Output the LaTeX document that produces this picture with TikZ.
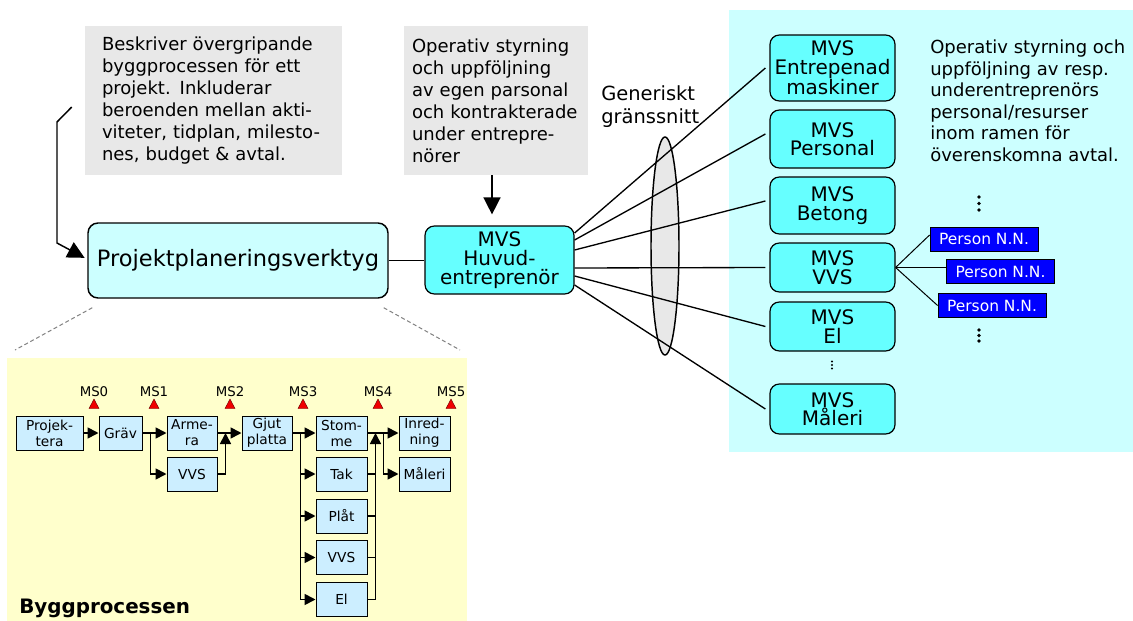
\documentclass[tikz,border=0pt]{standalone}
\usepackage{fontspec}
\setmainfont{DejaVu Sans}
\usetikzlibrary{arrows.meta,calc}
\definecolor{graybox}{RGB}{232,232,232}
\definecolor{palecyan}{RGB}{204,255,255}
\definecolor{mvscyan}{RGB}{102,255,255}
\definecolor{paleyellow}{RGB}{255,255,204}
\definecolor{taskblue}{RGB}{204,238,255}
\definecolor{msred}{RGB}{240,0,0}
\definecolor{personblue}{RGB}{0,0,255}
\begin{document}
\begin{tikzpicture}[x=0.75pt, y=-0.75pt,
  note/.style={fill=graybox, align=left, inner ysep=0pt, minimum height=111.75pt,
    font=\fontsize{13.5}{16.5}\selectfont},
  tool/.style={draw, line width=1.1pt, rounded corners=7.5pt, fill=palecyan,
    minimum width=225pt, minimum height=56.25pt, inner sep=0pt,
    font=\fontsize{16.9}{20}\selectfont},
  mvs/.style={draw, line width=0.9pt, rounded corners=7pt, fill=mvscyan, align=center,
    inner sep=0pt, minimum width=93.75pt, font=\fontsize{15}{13.9}\selectfont},
  person/.style={draw=black, line width=0.6pt, fill=personblue, text=white, inner sep=0pt,
    minimum width=81pt, minimum height=18pt, font=\fontsize{11.6}{13}\selectfont},
  task/.style={draw, line width=0.75pt, fill=taskblue, align=center, inner sep=0pt,
    minimum height=25.5pt, font=\fontsize{10.3}{12}\selectfont},
  fanline/.style={line width=1pt},
  thinline/.style={line width=0.75pt},
  bigarrow/.style={line width=1.1pt, -{Triangle[length=12.75pt,width=12.75pt]}},
  flow/.style={line width=1.3pt, -{Triangle[length=8.25pt,width=8.25pt]}},
  merge/.style={line width=1.3pt},
  mslabel/.style={font=\fontsize{10}{11}\selectfont, inner sep=0pt},
]
\useasboundingbox (0,0) rectangle (1133,621);

% background panels
\fill[palecyan] (729,10) rectangle (1133,452);
\fill[paleyellow] (7,358) rectangle (467,621);

% generic interface ellipse
\draw[fill=graybox, line width=1.1pt] (665,246) ellipse [x radius=14, y radius=109];

% explanatory notes
\node[note, text width=167.25pt, inner xsep=12.75pt] (gb1) at (213.5,100.5)
  {Beskriver övergripande\\byggprocessen för ett\\projekt. Inkluderar\\beroenden mellan akti-\\viteter, tidplan, milesto-\\nes, budget \& avtal.};
\node[note, text width=126pt, inner xsep=6pt] (gb2) at (496,100.5)
  {Operativ styrning\\och uppföljning\\av egen parsonal\\och kontrakterade\\under entrepre-\\nörer};

% main tools
\node[tool] (proj) at (238,260.5) {Projektplaneringsverktyg};
\node[mvs, minimum width=111.75pt, minimum height=51pt, font=\fontsize{15}{14.25}\selectfont]
  (huv) at (499.5,260) {MVS\\Huvud-\\entreprenör};

% subcontractor systems
\node[mvs, minimum height=49.5pt]  (mvsent)  at (832.5,68)    {MVS\\Entrepenad\\maskiner};
\node[mvs, minimum height=43.5pt]  (mvspers) at (832.5,139)   {MVS\\Personal};
\node[mvs, minimum height=42.75pt] (mvsbet)  at (832.5,205.5) {MVS\\Betong};
\node[mvs, minimum height=36.75pt] (mvsvvs)  at (832.5,267.5) {MVS\\VVS};
\node[mvs, minimum height=36.75pt] (mvsel)   at (832.5,326.5) {MVS\\El};
\node[mvs, minimum height=37.5pt]  (mvsmal)  at (832.5,409)   {MVS\\Måleri};

% persons
\node[person] (p1) at (984,239)    {Person N.N.};
\node[person] (p2) at (1000.5,271.5) {Person N.N.};
\node[person] (p3) at (992,305.5)  {Person N.N.};

% texts
\node[anchor=north west, inner sep=0pt, align=left, font=\fontsize{14.6}{17.25}\selectfont]
  (gen) at (601,85.5) {Generiskt\\gränssnitt};
\node[anchor=north west, inner sep=0pt, align=left, font=\fontsize{13.5}{16.2}\selectfont]
  (desc) at (930,39.5) {Operativ styrning och\\uppföljning av resp.\\underentreprenörs\\personal/resurser\\inom ramen för\\överenskomna avtal.};

% continuation dots
\foreach \y in {197,203.5,210} \fill (979,\y) circle [radius=1.8];
\foreach \y in {330,335.5,341} \fill (979,\y) circle [radius=1.8];
\foreach \y in {361.5,365,368.5} \fill (832,\y) circle [radius=1.1];

% arrows into the tools
\coordinate (bend1) at (57,122);
\coordinate (bend2) at (57,243);
\draw[bigarrow] ($(gb1.west)+(-13,6.5)$) -- (bend1) -- (bend2) -- ([xshift=-2pt,yshift=2pt]proj.west);
\coordinate (dsrc) at ($(gb2.south)+(-4,0)$);
\coordinate (tipd) at ($(huv.north)+(0,-11)$);
\draw[bigarrow] (dsrc) -- (dsrc |- tipd);
\draw[line width=1.3pt] (proj.east) -- (proj.east -| huv.west);

% fan of interfaces
\foreach \n/\s/\e in {mvsent/-27/0, mvspers/-20/-5, mvsbet/-10/-4.5, mvsvvs/8/0, mvsel/16/0, mvsmal/25/0}
  \draw[fanline] ($(huv.east)+(0,\s)$) -- ($(\n.west)+(-4,\e)$);

% persons connected to VVS
\draw[thinline] (mvsvvs.east) -- ($(p1.west)+(0,-4)$);
\draw[thinline] (mvsvvs.east) -- (mvsvvs.east -| p2.west);
\draw[thinline] (mvsvvs.east) -- (p3.west);

% zoom lines to the building process
\coordinate (zl) at (15,350);
\coordinate (zr) at (460,350);
\draw[gray, dash pattern=on 3pt off 2pt, line width=0.75pt] ($(proj.south west)+(5,9)$) -- (zl);
\draw[gray, dash pattern=on 3pt off 2pt, line width=0.75pt] ($(proj.south east)+(-5,9)$) -- (zr);

% building process tasks
\node[task, minimum width=50.25pt] (tproj) at (49.5,433)  {Projek-\\tera};
\node[task, minimum width=32.25pt] (tgrav) at (120.5,433) {Gräv};
\node[task, minimum width=37.5pt]  (tarm)  at (192,433)   {Arme-\\ra};
\node[task, minimum width=37.5pt]  (tvvs1) at (192,474)   {VVS};
\node[task, minimum width=37.5pt]  (tgjut) at (267,433)   {Gjut\\platta};
\node[task, minimum width=38.25pt] (tstom) at (341.5,433) {Stom-\\me};
\node[task, minimum width=38.25pt] (ttak)  at (341.5,474) {Tak};
\node[task, minimum width=38.25pt] (tplat) at (341.5,516) {Plåt};
\node[task, minimum width=38.25pt] (tvvs2) at (341.5,557.5) {VVS};
\node[task, minimum width=38.25pt] (tel)   at (341.5,599.5) {El};
\node[task, minimum width=38.25pt] (tinr)  at (424.5,433) {Inred-\\ning};
\node[task, minimum width=38.25pt] (tmal)  at (424.5,474) {Måleri};

% dependencies
\draw[flow] (tproj.east) -- (tgrav.west);
\draw[flow] (tgrav.east) -- (tarm.west);
\coordinate (br1) at ($(tgrav.east)+(8,0)$);
\draw[flow] (br1) |- (tvvs1.west);
\draw[flow] (tarm.east) -- (tgjut.west);
\coordinate (mg2) at ($(tarm.east)+(8,0)$);
\draw[flow] (tvvs1.east) -| (mg2);
\draw[flow] (tgjut.east) -- (tstom.west);
\coordinate (br3) at ($(tgjut.east)+(8,0)$);
\foreach \t in {ttak,tplat,tvvs2,tel} \draw[flow] (br3) |- (\t.west);
\draw[flow] (tstom.east) -- (tinr.west);
\coordinate (mg4) at ($(tstom.east)+(8,0)$);
\foreach \t in {ttak,tplat,tvvs2} \draw[merge] (\t.east) -- (\t.east -| mg4);
\draw[flow] (tel.east) -| (mg4);
\coordinate (br5) at ($(tstom.east)+(16,0)$);
\draw[flow] (br5) |- (tmal.west);

% milestones
\foreach \x/\i in {94/0,154/1,230/2,303/3,378/4,451/5} {
  \node[mslabel] (ms\i) at (\x,392) {MS\i};
  \filldraw[fill=msred, draw=black!60!red, line width=0.3pt] (\x-5,408.5) -- (\x+5,408.5) -- (\x,399) -- cycle;
}

\node[anchor=base west, inner sep=0pt, font=\bfseries\fontsize{14.9}{16}\selectfont] (bygg) at (19,613) {Byggprocessen};
\end{tikzpicture}
\end{document}
